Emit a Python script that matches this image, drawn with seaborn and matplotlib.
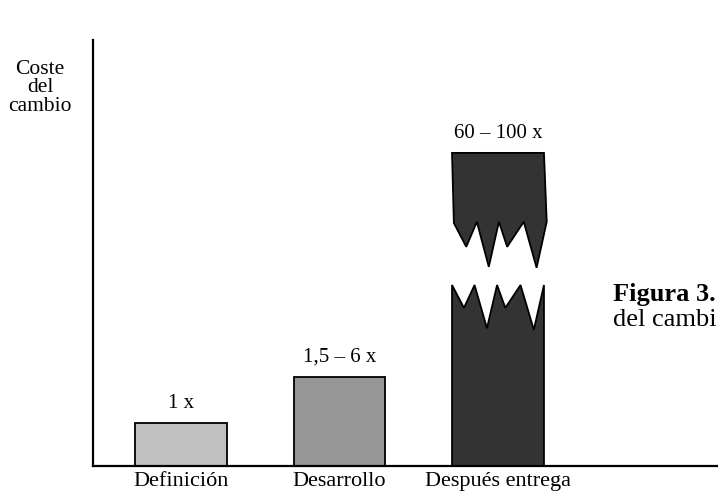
import matplotlib
matplotlib.use('Agg')
import matplotlib.pyplot as plt
from matplotlib.patches import Polygon
import seaborn as sns
import pandas as pd

# Datos (altura visual de cada barra, escala 0-100)
fases = ['Definición', 'Desarrollo', 'Después entrega']
altura = [10.1, 20.9, 73.5]
etiquetas = ['1 x', '1,5 – 6 x', '60 – 100 x']
colores = ['#c0c0c0', '#969696', '#333333']

df = pd.DataFrame({'fase': fases, 'altura': altura})

sns.set_style('white')
plt.rcParams['font.family'] = ['Liberation Serif', 'DejaVu Serif']
plt.rcParams['text.color'] = 'black'
plt.rcParams['xtick.color'] = 'black'

fig = plt.figure(figsize=(7.18, 4.93), dpi=100)
ax = fig.add_axes([93 / 718, 27 / 493, 625 / 718, 426 / 493])

sns.barplot(data=df, x='fase', y='altura', hue='fase', palette=colores,
            legend=False, width=0.58, edgecolor='black', linewidth=1.3,
            saturation=1, ax=ax)

ax.set_xlim(-0.555, 3.388)
ax.set_ylim(0, 100)
ax.set_xlabel('')
ax.set_ylabel('')
ax.set_yticks([])
ax.tick_params(axis='x', length=0, pad=4.5, labelsize=16, labelcolor='black')
for s in ['top', 'right']:
    ax.spines[s].set_visible(False)
for s in ['left', 'bottom']:
    ax.spines[s].set_linewidth(1.6)
    ax.spines[s].set_color('black')

# Barra "rota" (la tercera): se rehace con bordes dentados
bar = ax.patches[2]
x0, w, h = bar.get_x(), bar.get_width(), bar.get_height()
bar.set_visible(False)
corte_sup = [(0.02, 0.776), (0.155, 0.70), (0.27, 0.78), (0.40, 0.636), (0.51, 0.78),
             (0.60, 0.70), (0.78, 0.78), (0.92, 0.633), (1.03, 0.78)]
corte_inf = [(0.0, 0.578), (0.13, 0.505), (0.245, 0.578), (0.38, 0.44), (0.49, 0.578),
             (0.58, 0.505), (0.745, 0.578), (0.89, 0.435), (1.0, 0.578)]
sup = [(0, 1)] + corte_sup + [(1, 1)]
inf = [(0, 0)] + corte_inf + [(1, 0)]
for pts in (sup, inf):
    ax.add_patch(Polygon([(x0 + fx * w, fy * h) for fx, fy in pts], closed=True,
                         facecolor=colores[2], edgecolor='black', linewidth=1.3,
                         joinstyle='miter'))

# Etiquetas de valor encima de cada barra
for i, (p, txt) in enumerate(zip(ax.patches[:3], etiquetas)):
    ax.annotate(txt, (p.get_x() + p.get_width() / 2, altura[i]),
                xytext=(0, 11), textcoords='offset points',
                ha='center', va='baseline', fontsize=15)

fig.text(40 / 718, 1 - 88 / 493, 'Coste\ndel\ncambio', ha='center', va='center',
         multialignment='center', fontsize=15.5, linespacing=0.95)
fig.text(613 / 718, 1 - 294 / 493, 'Figura 3.', fontweight='bold', fontsize=19,
         ha='left', va='center')
fig.text(717 / 718, 1 - 320 / 493, 'del cambi', fontsize=19, ha='right', va='center')

plt.savefig('out.png', dpi=100)
